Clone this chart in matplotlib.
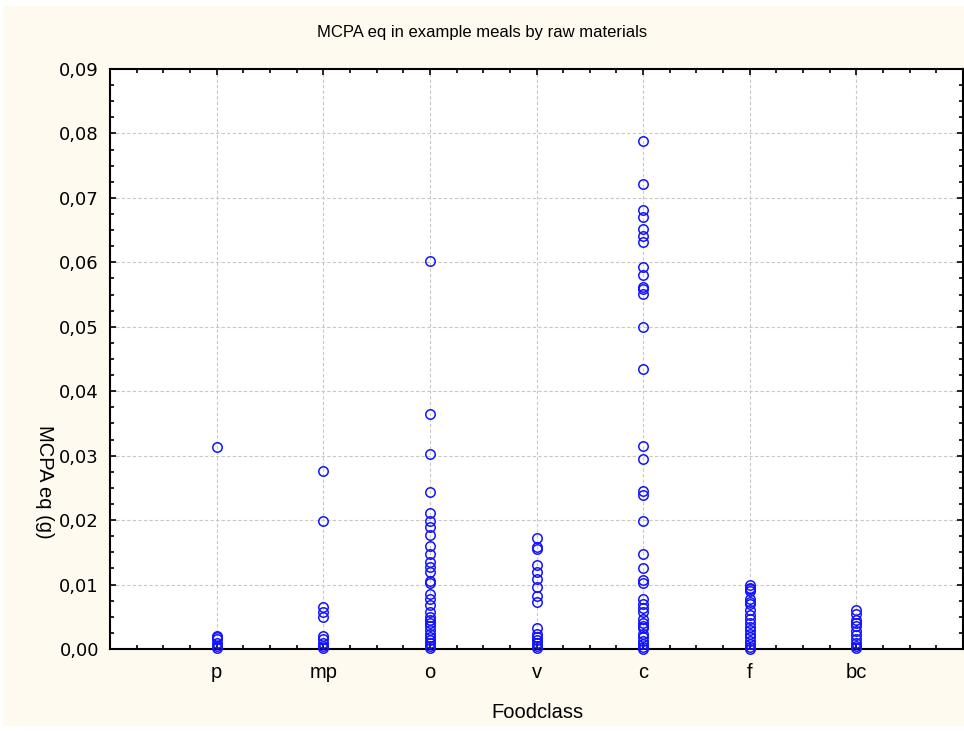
import matplotlib.pyplot as plt
from matplotlib.ticker import MultipleLocator, FuncFormatter
from matplotlib.patches import Rectangle

# categories and MCPA eq values (g)
classes = ["p", "mp", "o", "v", "c", "f", "bc"]

p_vals = [0.0314, 0.0020, 0.0018, 0.0015, 0.0009, 0.0004, 0.0001]
mp_vals = [0.0276, 0.0198, 0.0065, 0.0057, 0.0049, 0.0020, 0.0015,
           0.0010, 0.0005, 0.0001]
o_vals = [0.0602, 0.0364, 0.0302, 0.0244, 0.0211, 0.0199, 0.0190, 0.0177,
          0.0160, 0.0147, 0.0135, 0.0128, 0.0120, 0.0106, 0.0103, 0.0085,
          0.0077, 0.0068, 0.0057, 0.0050, 0.0045, 0.0040, 0.0035, 0.0029,
          0.0024, 0.0019, 0.0014, 0.0009, 0.0004, 0.0001]
v_vals = [0.0173, 0.0158, 0.0155, 0.0131, 0.0119, 0.0109, 0.0096, 0.0082,
          0.0073, 0.0032, 0.0024, 0.0019, 0.0014, 0.0009, 0.0004, 0.0001]
c_vals = [0.0789, 0.0722, 0.0681, 0.0670, 0.0652, 0.0641, 0.0632, 0.0593,
          0.0580, 0.0561, 0.0558, 0.0551, 0.0499, 0.0435, 0.0315, 0.0295,
          0.0245, 0.0239, 0.0199, 0.0147, 0.0125, 0.0107, 0.0103, 0.0078,
          0.0070, 0.0064, 0.0058, 0.0046, 0.0040, 0.0035, 0.0032, 0.0024,
          0.0019, 0.0013, 0.0008, 0.0003, 0.0000]
f_vals = [0.0099, 0.0095, 0.0093, 0.0090, 0.0078, 0.0073, 0.0070, 0.0060,
          0.0053, 0.0047, 0.0040, 0.0034, 0.0029, 0.0023, 0.0018, 0.0013,
          0.0008, 0.0003, 0.0000]
bc_vals = [0.0060, 0.0054, 0.0045, 0.0041, 0.0035, 0.0028, 0.0021, 0.0016,
           0.0010, 0.0005, 0.0001]

all_vals = [p_vals, mp_vals, o_vals, v_vals, c_vals, f_vals, bc_vals]

W, H = 964, 731
fig = plt.figure(figsize=(W / 100, H / 100), dpi=100, facecolor="white")

# cream panel behind everything (thin white border at top/left/bottom)
fig.patches.append(Rectangle((3 / W, 5 / H), 1 - 3 / W, 1 - 11 / H,
                             transform=fig.transFigure, facecolor="#FFFAF0",
                             edgecolor="none", zorder=-10))

ax = fig.add_axes([110 / W, 82 / H, 853 / W, 580 / H])
ax.set_facecolor("white")

for i, vals in enumerate(all_vals):
    ax.plot([i + 1] * len(vals), vals, linestyle="none", marker="o",
            markersize=6.8, markerfacecolor="none", markeredgecolor="#1414ff",
            markeredgewidth=1.1, clip_on=False, zorder=3)

ax.set_xlim(0, 8)
ax.set_ylim(0, 0.09)
ax.set_xticks(range(1, len(classes) + 1))
ax.set_xticklabels(classes, family="Liberation Sans", fontsize=14.5)
ax.xaxis.set_minor_locator(MultipleLocator(0.25))
ax.yaxis.set_major_locator(MultipleLocator(0.01))
ax.yaxis.set_minor_locator(MultipleLocator(0.0025))
ax.yaxis.set_major_formatter(FuncFormatter(lambda v, pos: f"{v:.2f}".replace(".", ",")))
for lab in ax.get_yticklabels():
    lab.set_family("DejaVu Sans")
    lab.set_fontsize(13)

ax.tick_params(which="both", direction="in", top=True, right=True,
               color="black", width=1.2)
ax.tick_params(which="major", length=4)
ax.tick_params(which="minor", length=3)
ax.tick_params(axis="x", which="major", pad=10)
ax.tick_params(axis="y", which="major", pad=8)
for s in ax.spines.values():
    s.set_linewidth(1.5)
    s.set_color("black")

ax.grid(True, which="major", color="#c8c8c8", linestyle=(0, (3, 2)), linewidth=0.8)
ax.set_axisbelow(True)

fig.text(482 / W, 1 - 33 / H, "MCPA eq in example meals by raw materials",
         ha="center", va="center", fontsize=12, family="Liberation Sans")
fig.text(537 / W, 1 - 712 / H, "Foodclass", ha="center", va="center",
         fontsize=14.5, family="Liberation Sans")
fig.text(44 / W, 1 - 482 / H, "MCPA eq (g)", ha="center", va="center",
         rotation=270, fontsize=14.5, family="Liberation Sans")

fig.savefig("out.png", dpi=100, facecolor=fig.get_facecolor())
